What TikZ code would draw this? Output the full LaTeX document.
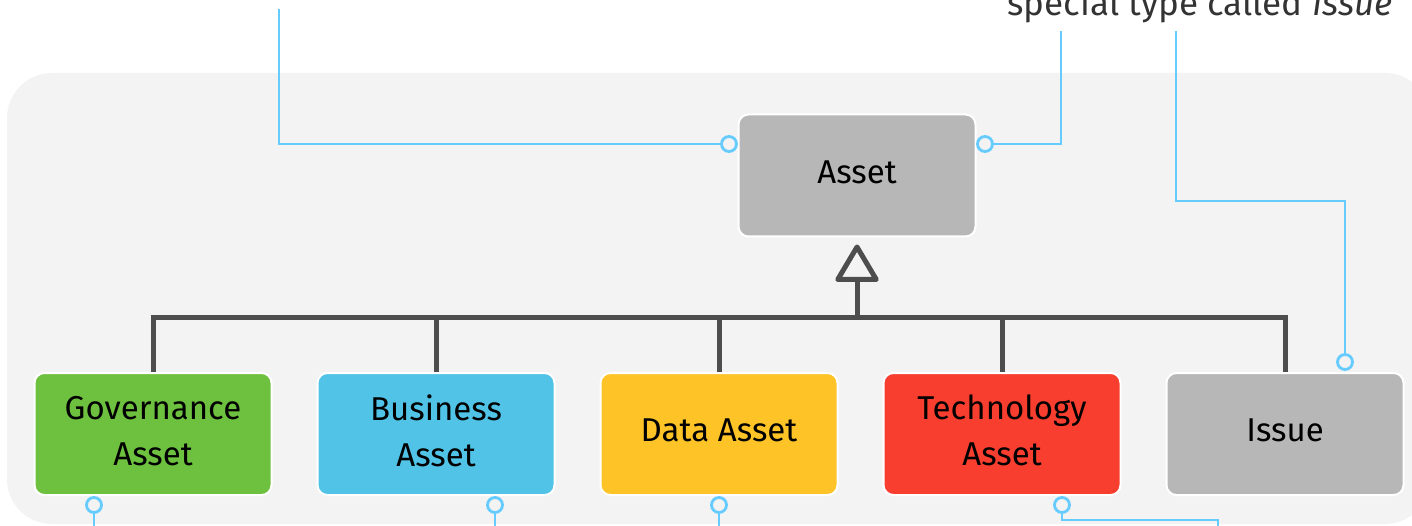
\documentclass[tikz,border=0pt]{standalone}
\usepackage{fontspec}
\setmainfont{Fira Sans}
\usepackage{xcolor}
\usetikzlibrary{arrows.meta, positioning}

\definecolor{bggray}{HTML}{F3F3F3}
\definecolor{assetgray}{HTML}{B7B7B7}
\definecolor{govgreen}{HTML}{6DC13E}
\definecolor{busblue}{HTML}{50C3E7}
\definecolor{datayellow}{HTML}{FEC427}
\definecolor{techred}{HTML}{F83E2F}
\definecolor{linkblue}{HTML}{66CCFF}
\definecolor{genline}{HTML}{4D4D4D}
\definecolor{notegray}{HTML}{333333}

\begin{document}
\begin{tikzpicture}[x=1pt, y=-1pt,
    box/.style={draw=white, line width=2pt, rounded corners=10pt, minimum width=237pt, minimum height=122pt, inner sep=0pt, text depth=7pt, align=center, font=\fontsize{33}{46}\selectfont},
    link/.style={draw=linkblue, line width=2.8pt},
    port/.style={circle, draw=linkblue, fill=bggray, line width=2.8pt, minimum size=15pt, inner sep=0pt},
    gen/.style={draw=genline, line width=5pt}]
                        \useasboundingbox (0, 0) rectangle (1412, 526);
                        \clip (0, 0) rectangle (1412, 526);
                        \fill[bggray, rounded corners=45pt] (7, 73) rectangle (1430, 524);
                        \node[box, fill=assetgray] (asset) at (857, 175.5) {Asset};
                        \node[box, fill=govgreen] (gov) at (153, 434) {Governance\\Asset};
                        \node[box, fill=busblue] (bus) at (436, 434) {Business\\Asset};
                        \node[box, fill=datayellow] (data) at (719, 434) {Data Asset};
                        \node[box, fill=techred] (tech) at (1002, 434) {Technology\\Asset};
                        \node[box, fill=assetgray] (iss) at (1285, 434) {Issue};
                        \node[font=\fontsize{35}{42}\selectfont, text=notegray, anchor=base] (note) at (1200, 16) {special type called \textit{Issue}};
                        \node[port] (pl) at (729, 144) {};
                        \node[port] (pr) at (985, 144) {};
                        \node[port] (pi) at (1345, 362) {};
                        \node[port] (pgov) at (94, 505) {};
                        \node[port] (pbus) at (495, 505) {};
                        \node[port] (pdata) at (719, 505) {};
                        \node[port] (ptech) at (1062, 505) {};
                        \coordinate (hub) at (857, 317);
                        \coordinate (tl) at (279, 9);
                        \coordinate (tr) at (1061, 31);
                        \coordinate (ti) at (1176, 31);
                        \coordinate (ki) at (1345, 201);
                        \coordinate (kt) at (1218, 520);
                        \draw[gen, -{Triangle[open, round, length=40pt, width=46pt]}] (hub) -- ([yshift=-7pt]asset.south);
                        \draw[gen] (gov.north) |- (hub) -| (iss.north);
                        \draw[gen] (bus.north) -- (bus.north |- hub);
                        \draw[gen] (data.north) -- (data.north |- hub);
                        \draw[gen] (tech.north) -- (tech.north |- hub);
                        \draw[link] (pl) -| (tl);
                        \draw[link] (pr) -| (tr);
                        \draw[link] (ti) |- (ki) -- (pi);
                        \draw[link] (pgov) -- (pgov |- 0, 530);
                        \draw[link] (pbus) -- (pbus |- 0, 530);
                        \draw[link] (pdata) -- (pdata |- 0, 530);
                        \draw[link] (ptech) |- (kt) -- (kt |- 0, 530);
                    \end{tikzpicture}
\end{document}
